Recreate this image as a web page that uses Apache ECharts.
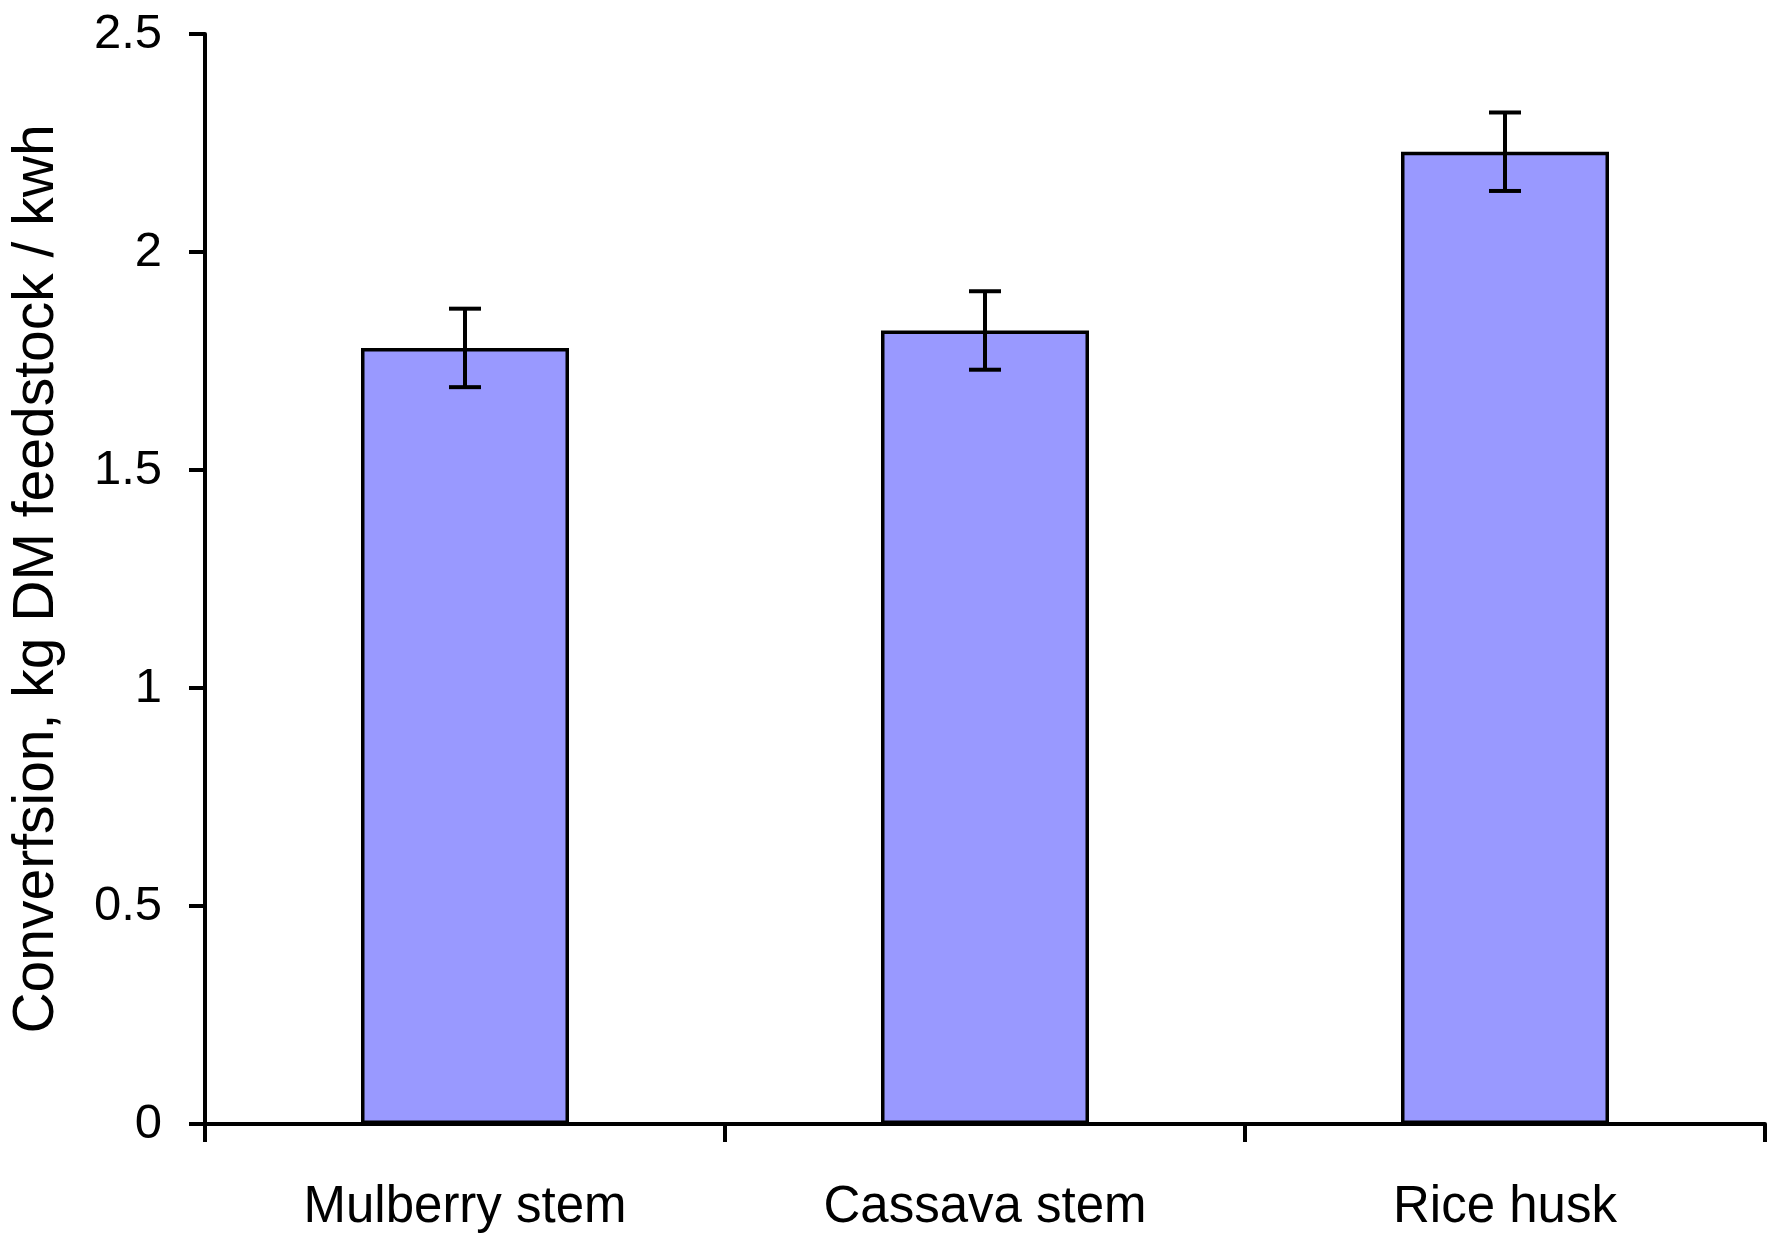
<!DOCTYPE html>
<html>
<head>
<meta charset="utf-8">
<script src="https://cdn.jsdelivr.net/npm/echarts@6/dist/echarts.min.js"></script>
<style>html,body{margin:0;padding:0;background:#fff}#c{width:1778px;height:1241px}</style>
</head>
<body>
<div id="c"></div>
<script>
const categories = ['Mulberry stem', 'Cassava stem', 'Rice husk'];
const values = [1.78, 1.82, 2.23];
const errors = [0.09, 0.09, 0.09];
const yTicks = [0, 0.5, 1, 1.5, 2, 2.5];
const yAxisTitle = 'Converfsion, kg DM feedstock / kwh';

const FONT = '"Liberation Sans", Arial, sans-serif';
const chart = echarts.init(document.getElementById('c'), null, {renderer: 'canvas'});
const errData = categories.map((c, i) => [i, values[i] - errors[i], values[i] + errors[i]]);

chart.setOption({
  animation: false,
  backgroundColor: '#fff',
  grid: {left: 205, right: 13, top: 34, bottom: 117, containLabel: false, outerBoundsMode: 'none'},
  xAxis: {
    type: 'category',
    data: categories,
    boundaryGap: true,
    axisLine: {lineStyle: {color: '#000', width: 4}},
    axisTick: {show: true, length: 18, inside: false, lineStyle: {color: '#000', width: 4}},
    axisLabel: {color: '#000', fontFamily: FONT, fontSize: 51, margin: 58}
  },
  yAxis: {
    type: 'value',
    min: yTicks[0],
    max: yTicks[yTicks.length - 1],
    interval: 0.5,
    name: yAxisTitle,
    nameLocation: 'middle',
    nameGap: 139,
    nameRotate: 90,
    nameTextStyle: {color: '#000', fontFamily: FONT, fontSize: 57},
    axisLine: {show: true, lineStyle: {color: '#000', width: 4}},
    axisTick: {show: true, length: 16, lineStyle: {color: '#000', width: 4}},
    splitLine: {show: false},
    axisLabel: {color: '#000', fontFamily: FONT, fontSize: 49, margin: 43,
      formatter: v => String(v)}
  },
  series: [
    {
      type: 'bar',
      data: values,
      barWidth: '40%',
      itemStyle: {color: '#9999FF', borderColor: '#000', borderWidth: 3.5},
      z: 2
    },
    {
      type: 'custom',
      data: errData,
      z: 5,
      renderItem: function (params, api) {
        const x = api.value(0);
        const lo = api.coord([x, api.value(1)]);
        const hi = api.coord([x, api.value(2)]);
        const hw = 16;
        const st = {stroke: '#000', lineWidth: 4};
        return {
          type: 'group',
          children: [
            {type: 'line', shape: {x1: lo[0], y1: lo[1], x2: hi[0], y2: hi[1]}, style: st},
            {type: 'line', shape: {x1: lo[0] - hw, y1: lo[1], x2: lo[0] + hw, y2: lo[1]}, style: st},
            {type: 'line', shape: {x1: hi[0] - hw, y1: hi[1], x2: hi[0] + hw, y2: hi[1]}, style: st}
          ]
        };
      }
    }
  ]
});
</script>
</body>
</html>
